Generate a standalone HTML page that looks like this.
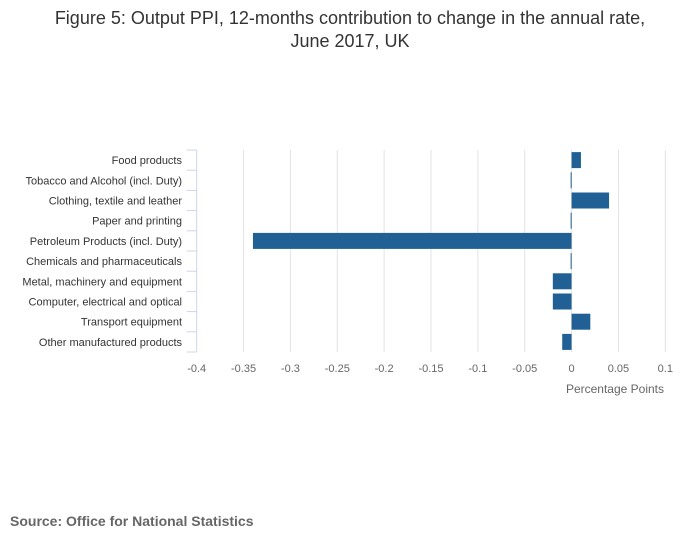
<!DOCTYPE html>
<html><head><meta charset="utf-8"><style>
body{margin:0;background:#fff;width:700px;height:549px;overflow:hidden;font-family:"Liberation Sans",sans-serif}
</style></head><body>
<svg width="700" height="549" xmlns="http://www.w3.org/2000/svg">
<text x="350" y="24" text-anchor="middle" font-size="18" fill="#333">Figure 5: Output PPI, 12-months contribution to change in the annual rate,</text>
<text x="350" y="47" text-anchor="middle" font-size="18" fill="#333">June 2017, UK</text>
<g id="grid"></g><g id="bars"></g><g id="ylab"></g><g id="xlab"></g>
<text x="664" y="393" text-anchor="end" font-size="12" fill="#666">Percentage Points</text>
<text x="10" y="526" font-size="14" font-weight="bold" fill="#666">Source: Office for National Statistics</text>
</svg>
<script>
const categories=["Food products","Tobacco and Alcohol (incl. Duty)","Clothing, textile and leather","Paper and printing","Petroleum Products (incl. Duty)","Chemicals and pharmaceuticals","Metal, machinery and equipment","Computer, electrical and optical","Transport equipment","Other manufactured products"];
const values=[0.01,-0.001,0.04,-0.001,-0.34,-0.001,-0.02,-0.02,0.02,-0.01];
const ticks=[-0.4,-0.35,-0.3,-0.25,-0.2,-0.15,-0.1,-0.05,0,0.05,0.1];
const tickLabels=["-0.4","-0.35","-0.3","-0.25","-0.2","-0.15","-0.1","-0.05","0","0.05","0.1"];
const NS="http://www.w3.org/2000/svg";
const x0=196.7,x1=665.3,vmin=-0.4,vmax=0.1,yTop=150,yBot=352;
const xs=v=>x0+(v-vmin)/(vmax-vmin)*(x1-x0);
const band=(yBot-yTop)/categories.length;
function mk(p,t,a){const e=document.createElementNS(NS,t);for(const k in a)e.setAttribute(k,a[k]);document.getElementById(p).appendChild(e);return e;}
ticks.forEach((t,i)=>{
 if(i>0){const g=mk('grid','line',{x1:xs(t),x2:xs(t),y1:yTop,y2:yBot,stroke:'#e3e3e3','stroke-width':1});
 
 }
 const l=mk('xlab','text',{x:xs(t),y:372,'text-anchor':'middle','font-size':11,fill:'#666'});l.textContent=tickLabels[i];
 
 
});
const ax=mk('grid','line',{x1:x0,x2:x0,y1:yTop,y2:yBot,stroke:'#ccd6eb','stroke-width':1});


for(let i=0;i<=categories.length;i++){const tk=mk('grid','line',{x1:x0-10,x2:x0,y1:yTop+i*band,y2:yTop+i*band,stroke:'#ccd6eb'});
 
 }
categories.forEach((c,i)=>{
 const cy=yTop+(i+0.5)*band,v=values[i];
 const a=Math.min(xs(0),xs(v)),w=Math.max(Math.abs(xs(v)-xs(0)),1);
 const b=mk('bars','rect',{x:a,y:cy-8,width:w,height:16,fill:'#206095'});
 
 
 const l=mk('ylab','text',{x:182,y:cy+4,'text-anchor':'end','font-size':11,fill:'#333'});l.textContent=c;
 
 
});
</script>
</body></html>
